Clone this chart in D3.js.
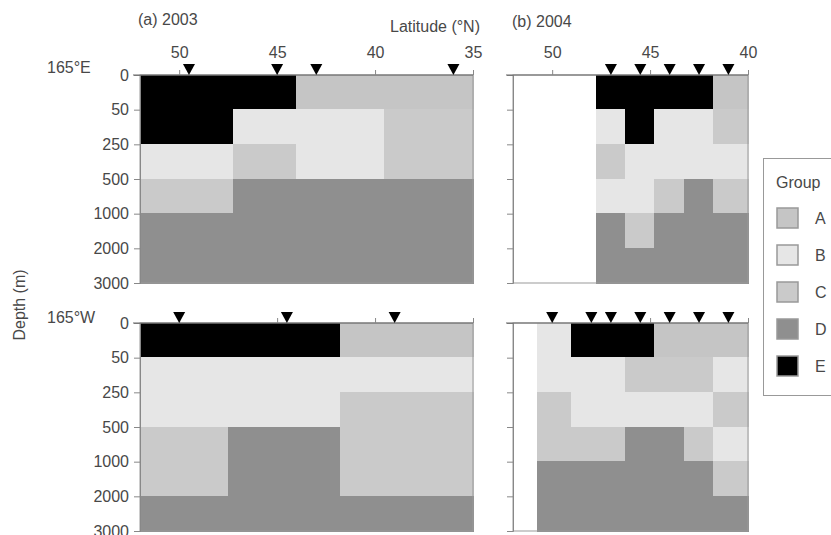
<!DOCTYPE html>
<html><head><meta charset="utf-8">
<script src="https://cdn.jsdelivr.net/npm/d3@7"></script>
<style>
body{margin:0;background:#fff;}
text{font-family:"Liberation Sans",Arial,sans-serif;}
</style></head>
<body><svg id="c" width="831" height="535"></svg>
<script>
// ---- data ----
const depthLevels = ["0","50","250","500","1000","2000","3000"];
const groups = ["A","B","C","D","E"];
const latTicks2003 = [50,45,40,35];
const latTicks2004 = [50,45,40];

// 165°E, 2003
const e2003Stations = [49.5, 45, 43, 36];
const e2003Edges = [52, 47.25, 44, 39.5, 35];
const e2003Groups = [
  ["E","E","B","C","D","D"],
  ["E","B","C","D","D","D"],
  ["A","B","B","D","D","D"],
  ["A","C","C","D","D","D"]
];
// 165°E, 2004
const e2004Stations = [47, 45.5, 44, 42.5, 41];
const e2004Edges = [47.75, 46.25, 44.75, 43.25, 41.75, 40];
const e2004Groups = [
  ["E","B","C","B","D","D"],
  ["E","E","B","B","C","D"],
  ["E","B","B","C","D","D"],
  ["E","B","B","D","D","D"],
  ["A","C","B","C","D","D"]
];
// 165°W, 2003
const w2003Stations = [50, 44.5, 39];
const w2003Edges = [52, 47.5, 41.75, 35];
const w2003Groups = [
  ["E","B","B","C","C","D"],
  ["E","B","B","D","D","D"],
  ["A","B","C","C","C","D"]
];
// 165°W, 2004
const w2004Stations = [50, 48, 47, 45.5, 44, 42.5, 41];
const w2004Edges = [50.75, 49, 47.5, 46.25, 44.75, 43.25, 41.75, 40];
const w2004Groups = [
  ["B","B","C","C","D","D"],
  ["E","B","B","C","D","D"],
  ["E","B","B","C","D","D"],
  ["E","C","B","D","D","D"],
  ["A","C","B","D","D","D"],
  ["A","C","B","C","D","D"],
  ["A","B","C","B","C","D"]
];

// ---- drawing ----
const svg = d3.select("#c");
const color = d3.scaleOrdinal().domain(groups).range(["#c5c5c5","#e6e6e6","#cacaca","#8f8f8f","#000000"]);
const txt = "#484848";

const xL = d3.scaleLinear().domain([52,35]).range([140,473]);
const xR = d3.scaleLinear().domain([52,40]).range([513,748]);
const yTop = d3.scalePoint().domain(depthLevels).range([75,283]);
const yBot = d3.scalePoint().domain(depthLevels).range([323,531]);

function panel(x, y, stations, edges, grid, ticks, showXLabels, showYLabels){
  const g = svg.append("g");
  const [x0,x1] = x.range(), [y0,y1] = y.range();
  grid.forEach((col,ci)=>{
    col.forEach((grp,ri)=>{
      const xa = x(edges[ci]), xb = x(edges[ci+1]);
      const ya = y(depthLevels[ri]), yb = y(depthLevels[ri+1]);
      g.append("rect").attr("x",xa).attr("y",ya).attr("width",xb-xa).attr("height",yb-ya)
        .attr("fill",color(grp)).attr("stroke",color(grp)).attr("stroke-width",1)
        .attr("shape-rendering","crispEdges");
    });
  });
  g.append("rect").attr("x",x0).attr("y",y0).attr("width",x1-x0).attr("height",y1-y0)
    .attr("fill","none").attr("stroke","#999").attr("stroke-width",1);
  const ay = g.append("g").attr("transform",`translate(${x0},0)`)
    .call(d3.axisLeft(y).tickSize(6).tickPadding(5).tickFormat(showYLabels? d=>d : ()=>""));
  ay.select(".domain").attr("stroke","#888");
  ay.selectAll(".tick line").attr("stroke","#888");
  ay.selectAll("text").attr("font-size",16).attr("fill",txt);
  const ax = g.append("g").attr("transform",`translate(0,${y0})`)
    .call(d3.axisTop(x).tickValues(ticks).tickSize(5).tickPadding(12).tickFormat(showXLabels? d=>d : ()=>""));
  ax.select(".domain").attr("stroke","#666").attr("d",`M${x0-7},0H${x1}`);
  ax.selectAll(".tick line").attr("stroke","#888");
  ax.selectAll("text").attr("font-size",16).attr("fill",txt);
  g.selectAll(".st").data(stations).enter().append("path")
    .attr("d",d=>`M${x(d)-6},${y0-11}L${x(d)+6},${y0-11}L${x(d)},${y0}Z`).attr("fill","#000");
}

panel(xL, yTop, e2003Stations, e2003Edges, e2003Groups, latTicks2003, true, true);
panel(xR, yTop, e2004Stations, e2004Edges, e2004Groups, latTicks2004, true, false);
panel(xL, yBot, w2003Stations, w2003Edges, w2003Groups, latTicks2003, false, true);
panel(xR, yBot, w2004Stations, w2004Edges, w2004Groups, latTicks2004, false, false);

svg.append("text").attr("x",138).attr("y",25).attr("font-size",16).attr("fill",txt).text("(a) 2003");
svg.append("text").attr("x",512).attr("y",27).attr("font-size",16).attr("fill",txt).text("(b) 2004");
svg.append("text").attr("x",480).attr("y",32).attr("font-size",16).attr("fill",txt).attr("text-anchor","end").text("Latitude (°N)");
svg.append("text").attr("x",47).attr("y",73).attr("font-size",16).attr("fill",txt).text("165°E");
svg.append("text").attr("x",47).attr("y",323).attr("font-size",16).attr("fill",txt).text("165°W");
svg.append("text").attr("transform","translate(25,305) rotate(-90)").attr("font-size",16).attr("fill",txt)
  .attr("text-anchor","middle").text("Depth (m)");

const lg = svg.append("g");
lg.append("rect").attr("x",763.5).attr("y",158.5).attr("width",90).attr("height",237)
  .attr("fill","#fff").attr("stroke","#999");
lg.append("text").attr("x",776).attr("y",188).attr("font-size",16).attr("fill",txt).text("Group");
const ly = d3.scalePoint().domain(groups).range([218,366]);
groups.forEach(gr=>{
  lg.append("rect").attr("x",777).attr("y",ly(gr)-10).attr("width",21).attr("height",20)
    .attr("fill",color(gr)).attr("stroke","#999").attr("stroke-width",1.5);
  lg.append("text").attr("x",815).attr("y",ly(gr)+6).attr("font-size",16).attr("fill",txt).text(gr);
});
</script></body></html>
